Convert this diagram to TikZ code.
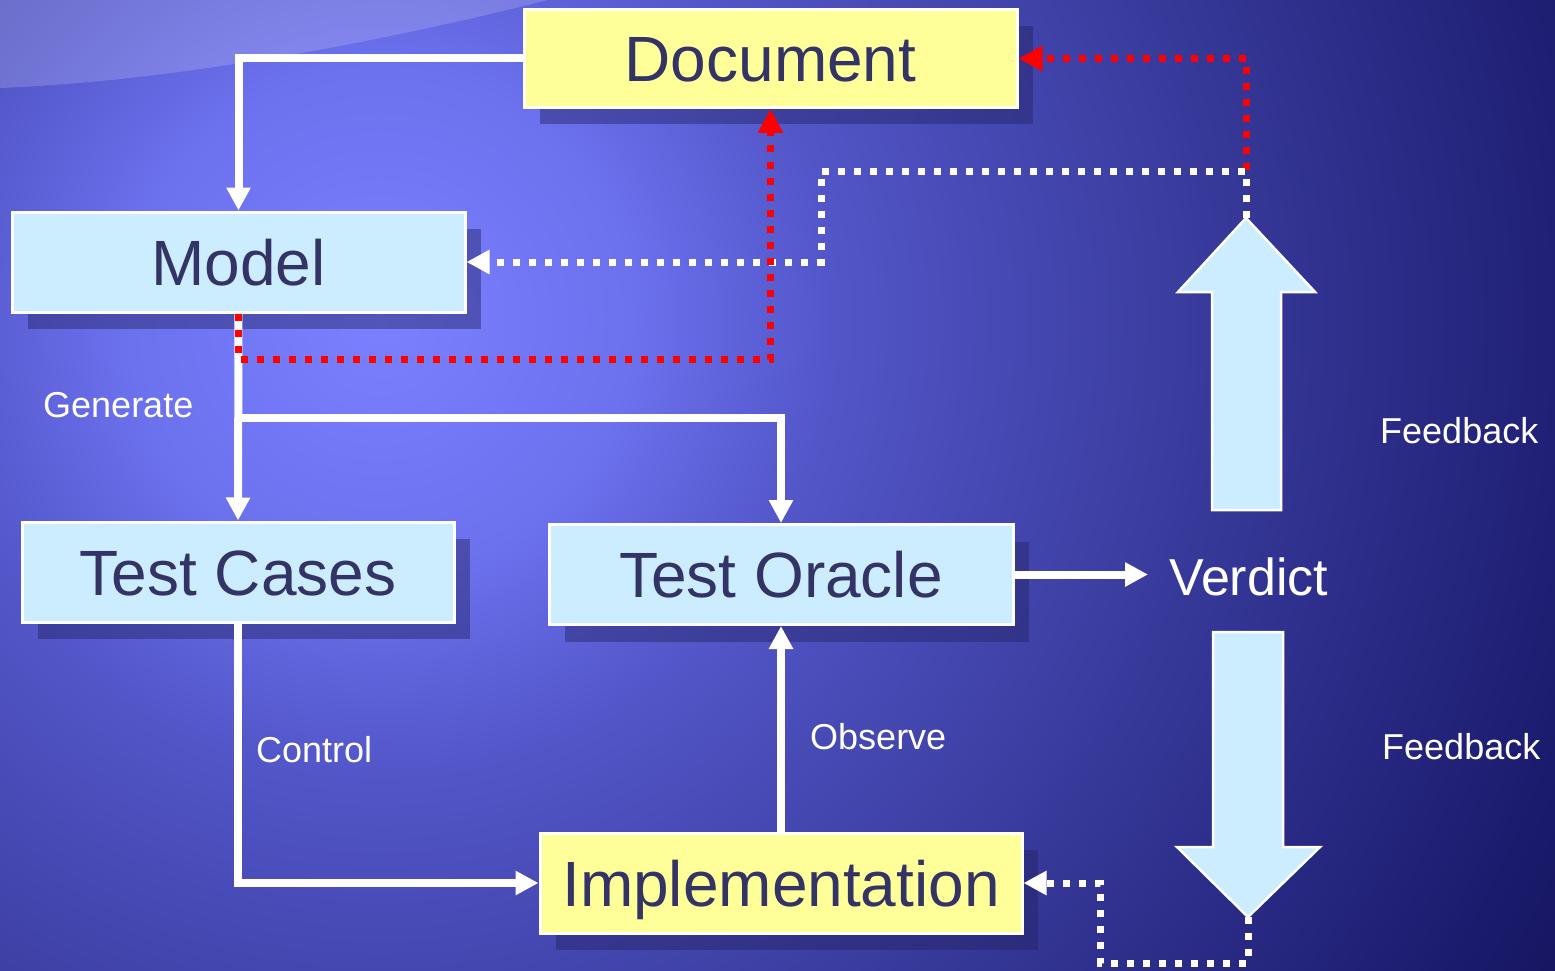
\documentclass[tikz,border=0pt]{standalone}
\usepackage{fontspec}
\setmainfont{Liberation Sans}
\usetikzlibrary{arrows.meta,shadows}
\definecolor{boxtext}{RGB}{51,51,102}
\definecolor{yel}{RGB}{255,255,153}
\definecolor{lblue}{RGB}{204,236,255}
\definecolor{shadowc}{RGB}{35,35,100}
\definecolor{bga}{RGB}{122,128,255}
\definecolor{bgb}{RGB}{108,113,238}
\definecolor{bgc}{RGB}{82,86,200}
\definecolor{bgd}{RGB}{58,60,158}
\definecolor{bge}{RGB}{30,30,115}
\definecolor{bgf}{RGB}{12,12,78}
\pgfdeclareradialshading{bgshade}{\pgfpoint{0bp}{0bp}}{color(0bp)=(bga); color(250bp)=(bgb); color(450bp)=(bgc); color(800bp)=(bgd); color(1200bp)=(bge); color(1500bp)=(bgf)}
\tikzset{
  box/.style={draw=white, line width=3pt, inner sep=0pt, text=boxtext,
    font=\fontsize{64}{70}\selectfont, text height=46pt, text depth=0pt,
    drop shadow={shadow xshift=16pt, shadow yshift=-17pt, fill=shadowc, opacity=0.45}},
  ybox/.style={box, fill=yel},
  bbox/.style={box, fill=lblue},
  lbl/.style={text=white, font=\fontsize{36}{40}\selectfont, inner sep=0pt, anchor=base west},
  warrow/.style={draw=white, line width=8pt, -{Triangle[length=23pt,width=23pt]}},
  wdot/.style={draw=white, line width=7pt, dash pattern=on 7pt off 9pt, -{Triangle[length=23pt,width=23pt]}},
  rdot/.style={draw=red, line width=7pt, dash pattern=on 7pt off 9pt, -{Triangle[length=24pt,width=24pt]}},
  bigarrow/.style={fill=lblue, draw=white, line width=2.5pt, line join=miter},
}
\begin{document}
\begin{tikzpicture}[x=1pt,y=-1pt]
\useasboundingbox (0,0) rectangle (1555,971);
% background
\begin{scope}
  \clip (0,0) rectangle (1555,971);
  \fill[bgf] (0,0) rectangle (1555,971);
  \node[inner sep=0pt, outer sep=0pt] (bgnode) at (380,320) {\pgfuseshading{bgshade}};
  \fill[white, opacity=0.17] (0,0) -- (0,88) .. controls (150,82) and (340,52) .. (548,0) -- cycle;
\end{scope}

% big feedback arrows
\draw[bigarrow] (1212,510) -- (1212,292) -- (1178,292) -- (1246,218) -- (1315,292) -- (1281,292) -- (1281,510) -- cycle;
\draw[bigarrow] (1213,632) -- (1283,632) -- (1283,847) -- (1320,847) -- (1248,917) -- (1177,847) -- (1213,847) -- cycle;
\coordinate (uptip) at (1246,218);
\coordinate (downtip) at (1248,917);

% boxes
\node[ybox, minimum width=493pt, minimum height=98pt] (doc) at (770.5,58.5) {Document};
\node[bbox, minimum width=453pt, minimum height=100pt] (model) at (238.5,262) {Model};
\node[bbox, minimum width=432pt, minimum height=100pt] (tc) at (238,572) {Test Cases};
\node[bbox, minimum width=464pt, minimum height=100pt] (to) at (781,574.5) {Test Oracle};
\node[ybox, minimum width=482pt, minimum height=100pt] (impl) at (781,883) {Implementation};

\node[text=white, font=\fontsize{52}{56}\selectfont, inner xsep=21pt, inner ysep=0pt,
      text height=37pt, text depth=0pt, anchor=base west] (verdict) at (1148,595) {Verdict};

% labels
\node[lbl] (gen) at (43,417) {Generate};
\node[lbl] (ctrl) at (256,762) {Control};
\node[lbl] (obs) at (810,749) {Observe};
\node[lbl] (fb1) at (1380,443) {Feedback};
\node[lbl] (fb2) at (1382,759) {Feedback};

% solid connectors
\coordinate (gsplit) at (238.5,418);
\draw[warrow] (doc.west) -| (model.north);
\draw[warrow] (model.south) -- (tc.north);
\draw[warrow] (gsplit) -| (to.north);
\draw[warrow] (impl.north) -- (to.south);
\draw[warrow] (tc.south) |- (impl.west);
\draw[warrow] (to.east) -- (to.east -| verdict.west);

% dotted feedback connectors
\draw[rdot] (uptip) |- (doc.east);
\coordinate (w1) at (1246,171);
\coordinate (w2) at (821,171);
\coordinate (w3) at (821,262);
\draw[wdot] (uptip) -- (w1) -- (w2) -- (w3) -- (model.east);
\coordinate (rc) at (770.5,359);
\draw[rdot] (model.south) |- (rc) -- (doc.south);
\coordinate (d1) at (1248,963);
\coordinate (d2) at (1100,963);
\coordinate (d3) at (1100,883);
\draw[wdot] (downtip) -- (d1) -- (d2) -- (d3) -- (impl.east);
\end{tikzpicture}
\end{document}
